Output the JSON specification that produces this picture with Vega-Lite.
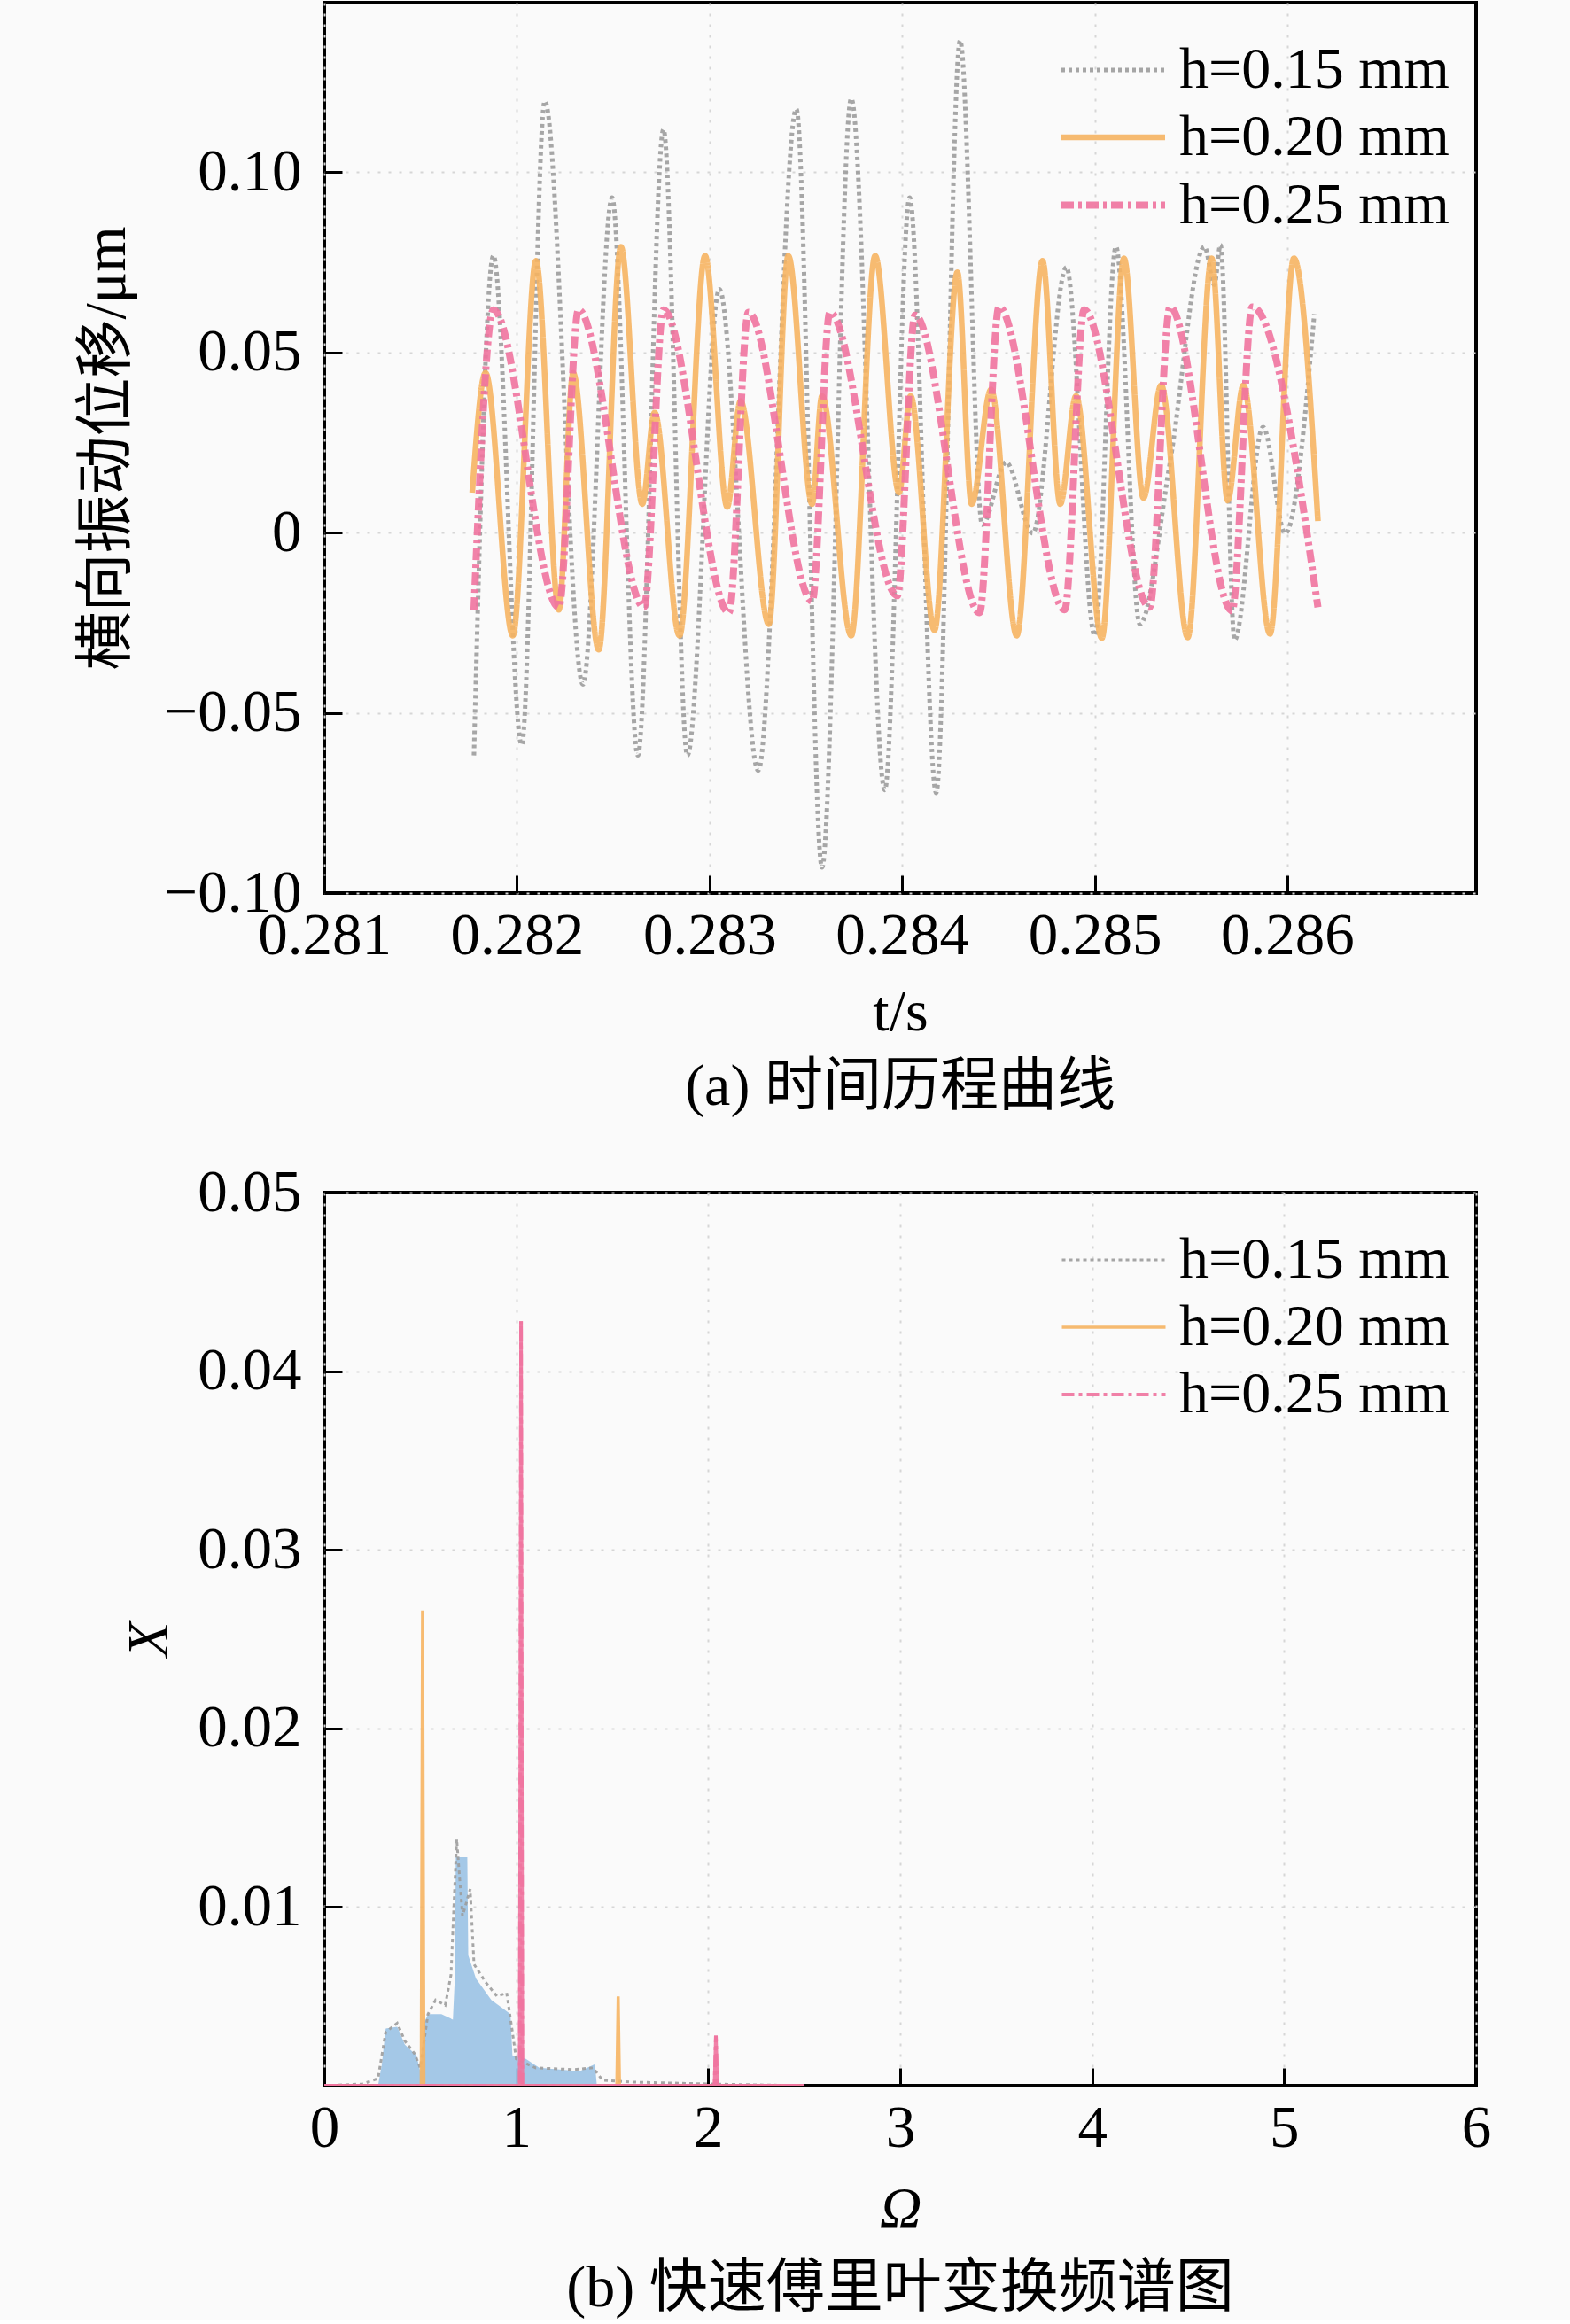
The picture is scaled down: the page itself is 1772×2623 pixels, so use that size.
{
  "$schema": "https://vega.github.io/schema/vega-lite/v6.json",
  "background": "#fafafa",
  "padding": {"left": 85, "top": 1, "right": 100, "bottom": 0},
  "spacing": 48,
  "datasets": {
    "ts": [
      {"h": "h=0.15 mm", "t": 0.281777, "v": -0.0618},
      {"h": "h=0.15 mm", "t": 0.281878, "v": 0.0768},
      {"h": "h=0.15 mm", "t": 0.282025, "v": -0.0589},
      {"h": "h=0.15 mm", "t": 0.282145, "v": 0.1197},
      {"h": "h=0.15 mm", "t": 0.282343, "v": -0.0421},
      {"h": "h=0.15 mm", "t": 0.282494, "v": 0.0929},
      {"h": "h=0.15 mm", "t": 0.282628, "v": -0.0618},
      {"h": "h=0.15 mm", "t": 0.282761, "v": 0.1118},
      {"h": "h=0.15 mm", "t": 0.282885, "v": -0.0618},
      {"h": "h=0.15 mm", "t": 0.283051, "v": 0.0675},
      {"h": "h=0.15 mm", "t": 0.283253, "v": -0.066},
      {"h": "h=0.15 mm", "t": 0.283451, "v": 0.1175},
      {"h": "h=0.15 mm", "t": 0.283584, "v": -0.0929},
      {"h": "h=0.15 mm", "t": 0.283736, "v": 0.1204},
      {"h": "h=0.15 mm", "t": 0.28391, "v": -0.0714},
      {"h": "h=0.15 mm", "t": 0.284039, "v": 0.0929},
      {"h": "h=0.15 mm", "t": 0.284177, "v": -0.0722},
      {"h": "h=0.15 mm", "t": 0.284301, "v": 0.1365},
      {"h": "h=0.15 mm", "t": 0.284416, "v": 0.0022},
      {"h": "h=0.15 mm", "t": 0.28454, "v": 0.0195},
      {"h": "h=0.15 mm", "t": 0.284678, "v": -0.0002},
      {"h": "h=0.15 mm", "t": 0.284853, "v": 0.0736},
      {"h": "h=0.15 mm", "t": 0.285, "v": -0.0286},
      {"h": "h=0.15 mm", "t": 0.28511, "v": 0.0793},
      {"h": "h=0.15 mm", "t": 0.285234, "v": -0.0254},
      {"h": "h=0.15 mm", "t": 0.285391, "v": 0.0195},
      {"h": "h=0.15 mm", "t": 0.28557, "v": 0.0793},
      {"h": "h=0.15 mm", "t": 0.285621, "v": 0.0687},
      {"h": "h=0.15 mm", "t": 0.285653, "v": 0.0798},
      {"h": "h=0.15 mm", "t": 0.285726, "v": -0.0298},
      {"h": "h=0.15 mm", "t": 0.285874, "v": 0.0293},
      {"h": "h=0.15 mm", "t": 0.285989, "v": -0.0002},
      {"h": "h=0.15 mm", "t": 0.28614, "v": 0.0606},
      {"h": "h=0.20 mm", "t": 0.281768, "v": 0.0111},
      {"h": "h=0.20 mm", "t": 0.281837, "v": 0.0443},
      {"h": "h=0.20 mm", "t": 0.281979, "v": -0.0286},
      {"h": "h=0.20 mm", "t": 0.282099, "v": 0.0754},
      {"h": "h=0.20 mm", "t": 0.282218, "v": -0.0214},
      {"h": "h=0.20 mm", "t": 0.282292, "v": 0.0443},
      {"h": "h=0.20 mm", "t": 0.282425, "v": -0.0325},
      {"h": "h=0.20 mm", "t": 0.28254, "v": 0.0793},
      {"h": "h=0.20 mm", "t": 0.282651, "v": 0.0079},
      {"h": "h=0.20 mm", "t": 0.282715, "v": 0.0333},
      {"h": "h=0.20 mm", "t": 0.282844, "v": -0.0286},
      {"h": "h=0.20 mm", "t": 0.282977, "v": 0.0768},
      {"h": "h=0.20 mm", "t": 0.283092, "v": 0.0071},
      {"h": "h=0.20 mm", "t": 0.283161, "v": 0.0365},
      {"h": "h=0.20 mm", "t": 0.283308, "v": -0.0254},
      {"h": "h=0.20 mm", "t": 0.283409, "v": 0.0768},
      {"h": "h=0.20 mm", "t": 0.283533, "v": 0.0079},
      {"h": "h=0.20 mm", "t": 0.283584, "v": 0.0379},
      {"h": "h=0.20 mm", "t": 0.283736, "v": -0.0286},
      {"h": "h=0.20 mm", "t": 0.28386, "v": 0.0768},
      {"h": "h=0.20 mm", "t": 0.283984, "v": 0.0111},
      {"h": "h=0.20 mm", "t": 0.284044, "v": 0.0379},
      {"h": "h=0.20 mm", "t": 0.284168, "v": -0.0271},
      {"h": "h=0.20 mm", "t": 0.284287, "v": 0.0722},
      {"h": "h=0.20 mm", "t": 0.284361, "v": 0.0079},
      {"h": "h=0.20 mm", "t": 0.284462, "v": 0.0397},
      {"h": "h=0.20 mm", "t": 0.284595, "v": -0.0286},
      {"h": "h=0.20 mm", "t": 0.284729, "v": 0.0754},
      {"h": "h=0.20 mm", "t": 0.284821, "v": 0.0079},
      {"h": "h=0.20 mm", "t": 0.284903, "v": 0.0379},
      {"h": "h=0.20 mm", "t": 0.285037, "v": -0.0293},
      {"h": "h=0.20 mm", "t": 0.285152, "v": 0.0761},
      {"h": "h=0.20 mm", "t": 0.285253, "v": 0.0096},
      {"h": "h=0.20 mm", "t": 0.285345, "v": 0.0409},
      {"h": "h=0.20 mm", "t": 0.285483, "v": -0.0291},
      {"h": "h=0.20 mm", "t": 0.285607, "v": 0.0761},
      {"h": "h=0.20 mm", "t": 0.28569, "v": 0.0089},
      {"h": "h=0.20 mm", "t": 0.285772, "v": 0.0409},
      {"h": "h=0.20 mm", "t": 0.28591, "v": -0.0281},
      {"h": "h=0.20 mm", "t": 0.286034, "v": 0.0761},
      {"h": "h=0.20 mm", "t": 0.286159, "v": 0.0032},
      {"h": "h=0.25 mm", "t": 0.281777, "v": -0.0214},
      {"h": "h=0.25 mm", "t": 0.281878, "v": 0.0618},
      {"h": "h=0.25 mm", "t": 0.282218, "v": -0.0207},
      {"h": "h=0.25 mm", "t": 0.28232, "v": 0.0618},
      {"h": "h=0.25 mm", "t": 0.28266, "v": -0.0207},
      {"h": "h=0.25 mm", "t": 0.282761, "v": 0.0618},
      {"h": "h=0.25 mm", "t": 0.283101, "v": -0.0222},
      {"h": "h=0.25 mm", "t": 0.283202, "v": 0.0611},
      {"h": "h=0.25 mm", "t": 0.283533, "v": -0.019},
      {"h": "h=0.25 mm", "t": 0.283625, "v": 0.0611},
      {"h": "h=0.25 mm", "t": 0.283975, "v": -0.0175},
      {"h": "h=0.25 mm", "t": 0.284067, "v": 0.0603},
      {"h": "h=0.25 mm", "t": 0.284402, "v": -0.0222},
      {"h": "h=0.25 mm", "t": 0.284503, "v": 0.0626},
      {"h": "h=0.25 mm", "t": 0.284844, "v": -0.0214},
      {"h": "h=0.25 mm", "t": 0.284945, "v": 0.0618},
      {"h": "h=0.25 mm", "t": 0.285285, "v": -0.0207},
      {"h": "h=0.25 mm", "t": 0.285391, "v": 0.0626},
      {"h": "h=0.25 mm", "t": 0.285713, "v": -0.0217},
      {"h": "h=0.25 mm", "t": 0.285818, "v": 0.0626},
      {"h": "h=0.25 mm", "t": 0.286159, "v": -0.0207}
    ],
    "fftfill": [
      {"w": 0.28, "x": 0},
      {"w": 0.3, "x": 0.0012},
      {"w": 0.32, "x": 0.0032},
      {"w": 0.38, "x": 0.0033},
      {"w": 0.42, "x": 0.0023},
      {"w": 0.48, "x": 0.0017},
      {"w": 0.5, "x": 0.0008},
      {"w": 0.52, "x": 0.0035},
      {"w": 0.54, "x": 0.004},
      {"w": 0.61, "x": 0.004},
      {"w": 0.67, "x": 0.0037},
      {"w": 0.68, "x": 0.006},
      {"w": 0.685, "x": 0.0128},
      {"w": 0.745, "x": 0.0128},
      {"w": 0.75, "x": 0.0073},
      {"w": 0.79, "x": 0.006},
      {"w": 0.87, "x": 0.0048},
      {"w": 0.97, "x": 0.004},
      {"w": 0.98, "x": 0.0017},
      {"w": 1.05, "x": 0.0015},
      {"w": 1.12, "x": 0.001},
      {"w": 1.33, "x": 0.0008},
      {"w": 1.41, "x": 0.0012},
      {"w": 1.42, "x": 0}
    ],
    "fft": [
      {"h": "h=0.15 mm", "w": 0, "x": 0},
      {"h": "h=0.15 mm", "w": 0.2, "x": 0.0001},
      {"h": "h=0.15 mm", "w": 0.28, "x": 0.0004},
      {"h": "h=0.15 mm", "w": 0.32, "x": 0.003},
      {"h": "h=0.15 mm", "w": 0.38, "x": 0.0035},
      {"h": "h=0.15 mm", "w": 0.42, "x": 0.0025},
      {"h": "h=0.15 mm", "w": 0.47, "x": 0.0018},
      {"h": "h=0.15 mm", "w": 0.5, "x": 0.001},
      {"h": "h=0.15 mm", "w": 0.54, "x": 0.004},
      {"h": "h=0.15 mm", "w": 0.58, "x": 0.0048},
      {"h": "h=0.15 mm", "w": 0.63, "x": 0.0045},
      {"h": "h=0.15 mm", "w": 0.66, "x": 0.0062},
      {"h": "h=0.15 mm", "w": 0.69, "x": 0.0138},
      {"h": "h=0.15 mm", "w": 0.72, "x": 0.0095},
      {"h": "h=0.15 mm", "w": 0.76, "x": 0.011},
      {"h": "h=0.15 mm", "w": 0.78, "x": 0.0068},
      {"h": "h=0.15 mm", "w": 0.84, "x": 0.0058},
      {"h": "h=0.15 mm", "w": 0.9, "x": 0.005},
      {"h": "h=0.15 mm", "w": 0.95, "x": 0.0052},
      {"h": "h=0.15 mm", "w": 0.98, "x": 0.003},
      {"h": "h=0.15 mm", "w": 1.0, "x": 0.0015},
      {"h": "h=0.15 mm", "w": 1.1, "x": 0.001},
      {"h": "h=0.15 mm", "w": 1.3, "x": 0.0009},
      {"h": "h=0.15 mm", "w": 1.4, "x": 0.001},
      {"h": "h=0.15 mm", "w": 1.45, "x": 0.0003},
      {"h": "h=0.15 mm", "w": 1.6, "x": 0.0002},
      {"h": "h=0.15 mm", "w": 2.0, "x": 0.0001},
      {"h": "h=0.15 mm", "w": 2.5, "x": 0},
      {"h": "h=0.20 mm", "w": 0, "x": 0},
      {"h": "h=0.20 mm", "w": 0.505, "x": 0},
      {"h": "h=0.20 mm", "w": 0.512, "x": 0.0266},
      {"h": "h=0.20 mm", "w": 0.519, "x": 0},
      {"h": "h=0.20 mm", "w": 1.524, "x": 0},
      {"h": "h=0.20 mm", "w": 1.531, "x": 0.005},
      {"h": "h=0.20 mm", "w": 1.538, "x": 0},
      {"h": "h=0.20 mm", "w": 2.5, "x": 0},
      {"h": "h=0.25 mm", "w": 0, "x": 0},
      {"h": "h=0.25 mm", "w": 1.018, "x": 0},
      {"h": "h=0.25 mm", "w": 1.025, "x": 0.0428},
      {"h": "h=0.25 mm", "w": 1.032, "x": 0},
      {"h": "h=0.25 mm", "w": 2.033, "x": 0},
      {"h": "h=0.25 mm", "w": 2.04, "x": 0.0028},
      {"h": "h=0.25 mm", "w": 2.047, "x": 0},
      {"h": "h=0.25 mm", "w": 2.5, "x": 0}
    ]
  },
  "config": {
    "font": "Liberation Serif, Noto Sans CJK SC",
    "view": {"stroke": "black", "strokeWidth": 4, "fill": "#fafafa"},
    "axis": {
      "labelFont": "Liberation Serif, Noto Sans CJK SC",
      "titleFont": "Liberation Serif, Noto Sans CJK SC",
      "labelFontSize": 67,
      "titleFontSize": 66,
      "labelColor": "black",
      "titleColor": "black",
      "titleFontWeight": "normal",
      "tickColor": "black",
      "tickSize": -20,
      "tickWidth": 3,
      "domain": false,
      "labelFlush": false,
      "grid": true,
      "gridColor": "#d6d6d6",
      "gridDash": [3, 9],
      "gridWidth": 2
    },
    "axisX": {"labelPadding": 35, "titlePadding": 21},
    "axisY": {"labelPadding": 46, "titlePadding": 30},
    "title": {
      "font": "Liberation Serif, Noto Sans CJK SC",
      "fontSize": 66,
      "fontWeight": "normal",
      "orient": "bottom",
      "anchor": "middle",
      "offset": 20,
      "color": "black"
    }
  },
  "vconcat": [
    {
      "width": 1300,
      "height": 1005,
      "title": {"text": "(a) 时间历程曲线"},
      "data": {"name": "ts"},
      "mark": {"type": "line", "interpolate": "monotone", "clip": true, "opacity": 0.9},
      "encoding": {
        "x": {
          "field": "t",
          "type": "quantitative",
          "title": "t/s",
          "scale": {"domain": [0.281, 0.28698], "nice": false, "zero": false},
          "axis": {"values": [0.281, 0.282, 0.283, 0.284, 0.285, 0.286], "format": ".3f"}
        },
        "y": {
          "field": "v",
          "type": "quantitative",
          "title": "横向振动位移/μm",
          "scale": {"domain": [-0.1, 0.147], "nice": false},
          "axis": {
            "values": [-0.1, -0.05, 0, 0.05, 0.1],
            "labelExpr": "datum.value == 0 ? '0' : format(datum.value, '.2f')"
          }
        },
        "color": {
          "field": "h",
          "type": "nominal",
          "scale": {"domain": ["h=0.15 mm", "h=0.20 mm", "h=0.25 mm"], "range": ["#9c9c9c", "#f6b462", "#f0739f"]},
          "legend": {
            "title": " ",
            "titleFontSize": 4,
            "titlePadding": 9,
            "orient": "top-right",
            "offset": 30,
            "labelFont": "Liberation Serif",
            "labelFontSize": 66,
            "labelColor": "black",
            "labelLimit": 0,
            "symbolType": "M-2,0H2",
            "symbolSize": 3422,
            "symbolStrokeWidth": 4,
            "labelOffset": 41,
            "rowPadding": 10
          }
        },
        "strokeDash": {
          "field": "h",
          "type": "nominal",
          "scale": {"domain": ["h=0.15 mm", "h=0.20 mm", "h=0.25 mm"], "range": [[4, 4], [1, 0], [14, 5, 4, 5]]},
          "legend": {
            "title": " ",
            "titleFontSize": 4,
            "titlePadding": 9,
            "orient": "top-right",
            "offset": 30,
            "labelFont": "Liberation Serif",
            "labelFontSize": 66,
            "labelColor": "black",
            "labelLimit": 0,
            "symbolType": "M-2,0H2",
            "symbolSize": 3422,
            "symbolStrokeWidth": 4,
            "labelOffset": 41,
            "rowPadding": 10
          }
        },
        "strokeWidth": {
          "field": "h",
          "type": "nominal",
          "scale": {"domain": ["h=0.15 mm", "h=0.20 mm", "h=0.25 mm"], "range": [5, 8, 5]},
          "legend": null
        }
      }
    },
    {
      "width": 1300,
      "height": 1008,
      "title": {"text": "(b) 快速傅里叶变换频谱图", "offset": 25},
      "layer": [
        {
          "data": {"name": "fftfill"},
          "mark": {"type": "area", "color": "#9fc5e6", "opacity": 0.95, "clip": true},
          "encoding": {
            "x": {
              "field": "w",
              "type": "quantitative",
              "title": "Ω",
              "scale": {"domain": [0, 6], "nice": false},
              "axis": {"values": [0, 1, 2, 3, 4, 5, 6], "format": "d", "titleFontStyle": "italic", "titlePadding": 26}
            },
            "y": {
              "field": "x",
              "type": "quantitative",
              "title": "X",
              "scale": {"domain": [0, 0.05], "nice": false},
              "axis": {"values": [0.01, 0.02, 0.03, 0.04, 0.05], "format": ".2f", "titleFontStyle": "italic", "titlePadding": 20}
            }
          }
        },
        {
          "data": {"name": "fft"},
          "mark": {"type": "line", "clip": true, "opacity": 0.9},
          "encoding": {
            "x": {"field": "w", "type": "quantitative"},
            "y": {"field": "x", "type": "quantitative"},
            "color": {
              "field": "h",
              "type": "nominal",
              "scale": {"domain": ["h=0.15 mm", "h=0.20 mm", "h=0.25 mm"], "range": ["#9c9c9c", "#f6b462", "#f0739f"]},
              "legend": {
                "title": " ",
                "titleFontSize": 4,
                "titlePadding": 9,
                "orient": "top-right",
                "offset": 30,
                "labelFont": "Liberation Serif",
                "labelFontSize": 66,
                "labelColor": "black",
                "labelLimit": 0,
                "symbolType": "M-2,0H2",
                "symbolSize": 3422,
                "symbolStrokeWidth": 4,
                "labelOffset": 41,
                "rowPadding": 10
              }
            },
            "strokeDash": {
              "field": "h",
              "type": "nominal",
              "scale": {"domain": ["h=0.15 mm", "h=0.20 mm", "h=0.25 mm"], "range": [[4, 4], [1, 0], [14, 5, 4, 5]]},
              "legend": {
                "title": " ",
                "titleFontSize": 4,
                "titlePadding": 9,
                "orient": "top-right",
                "offset": 30,
                "labelFont": "Liberation Serif",
                "labelFontSize": 66,
                "labelColor": "black",
                "labelLimit": 0,
                "symbolType": "M-2,0H2",
                "symbolSize": 3422,
                "symbolStrokeWidth": 4,
                "labelOffset": 41,
                "rowPadding": 10
              }
            },
            "strokeWidth": {
              "field": "h",
              "type": "nominal",
              "scale": {"domain": ["h=0.15 mm", "h=0.20 mm", "h=0.25 mm"], "range": [3, 4, 4]},
              "legend": null
            }
          }
        },
        {
          "data": {"name": "fft"},
          "transform": [{"filter": "datum.h == 'h=0.25 mm'"}],
          "mark": {"type": "line", "clip": true, "color": "#f0739f", "strokeWidth": 4, "opacity": 0.9},
          "encoding": {
            "x": {"field": "w", "type": "quantitative"},
            "y": {"field": "x", "type": "quantitative"}
          }
        }
      ]
    }
  ],
  "resolve": {
    "scale": {"color": "independent", "strokeDash": "independent", "strokeWidth": "independent"}
  }
}
